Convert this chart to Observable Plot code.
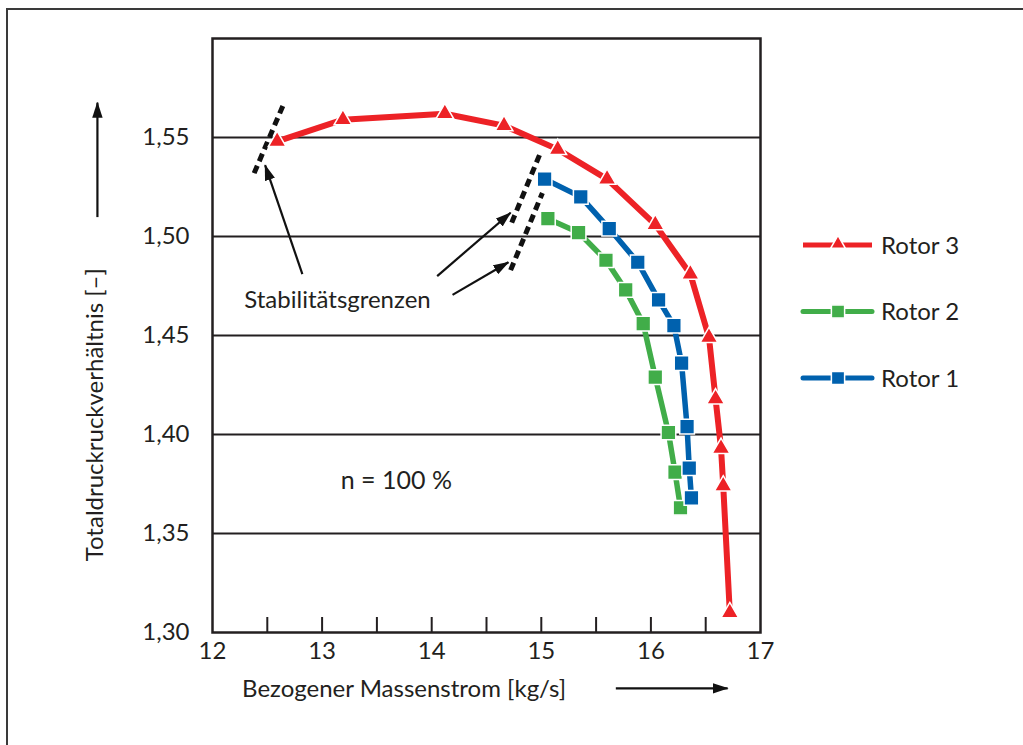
<!DOCTYPE html>
<html><head><meta charset="utf-8">
<script src="https://cdn.jsdelivr.net/npm/d3@7"></script>
<script src="https://cdn.jsdelivr.net/npm/@observablehq/plot@0.6"></script>
<style>
body{margin:0;background:#fff;font-family:Lato,sans-serif}
#wrap{position:relative;width:1023px;height:745px;overflow:hidden;background:#fff}
#chart{position:absolute;left:0;top:0}
#border{position:absolute;left:6px;top:8px;width:1100px;height:800px;border-left:2px solid #3a3a3a;border-top:2px solid #3a3a3a}
#legend{position:absolute;left:0;top:0}
</style></head><body>
<div id="wrap"><div id="chart"></div><div id="border"></div><svg id="legend" width="1023" height="745"></svg></div>
<script>
// ---- data ----
const seriesNames = ["Rotor 3", "Rotor 2", "Rotor 1"];
const seriesColors = ["#ed2226", "#41ad49", "#0061ae"];
const seriesSymbols = ["triangle", "square", "square"];

const rotor3X = [12.59, 13.19, 14.12, 14.66, 15.15, 15.60, 16.04, 16.36, 16.53, 16.59, 16.64, 16.66, 16.72];
const rotor3Y = [1.548, 1.559, 1.562, 1.556, 1.544, 1.529, 1.506, 1.481, 1.449, 1.418, 1.393, 1.374, 1.310];
const rotor2X = [15.06, 15.34, 15.59, 15.77, 15.93, 16.04, 16.16, 16.22, 16.27];
const rotor2Y = [1.509, 1.502, 1.488, 1.473, 1.456, 1.429, 1.401, 1.381, 1.363];
const rotor1X = [15.03, 15.36, 15.62, 15.88, 16.07, 16.21, 16.28, 16.33, 16.35, 16.37];
const rotor1Y = [1.529, 1.520, 1.504, 1.487, 1.468, 1.455, 1.436, 1.404, 1.383, 1.368];

// stability limits (dotted)
const stab1X = [12.38, 12.65], stab1Y = [1.532, 1.567];
const stab2X = [14.73, 14.99], stab2Y = [1.507, 1.542];
const stab3X = [14.72, 14.81, 15.01], stab3Y = [1.483, 1.495, 1.522];

// annotation arrows [x1, y1, x2, y2]
const annotArrows = [
  [12.82, 1.481, 12.48, 1.536],
  [14.05, 1.480, 14.72, 1.512],
  [14.19, 1.4705, 14.70, 1.487]
];
const axisArrows = [
  [10.95, 1.5098, 10.95, 1.5676],
  [15.68, 1.2718, 16.70, 1.2718]
];

const xTickLabels = [12, 13, 14, 15, 16, 17];
const xMinorTicks = [12.5, 13, 13.5, 14, 14.5, 15, 15.5, 16, 16.5];
const yTickLabels = [1.30, 1.35, 1.40, 1.45, 1.50, 1.55];
const yGrid = [1.35, 1.40, 1.45, 1.50, 1.55];

const toRows = (xs, ys, name) => xs.map((x, i) => ({x, y: ys[i], name}));
const r3 = toRows(rotor3X, rotor3Y, "Rotor 3");
const r2 = toRows(rotor2X, rotor2Y, "Rotor 2");
const r1 = toRows(rotor1X, rotor1Y, "Rotor 1");
const series = [r3, r2, r1];

const arrowRows = annotArrows.concat(axisArrows).map(([x1, y1, x2, y2]) => ({x1, y1, x2, y2}));
const fmt = d => d.toFixed(2).replace(".", ",");
const ink = "#231f20";

const plot = Plot.plot({
  width: 1023,
  height: 745,
  marginLeft: 212,
  marginRight: 263,
  marginTop: 38,
  marginBottom: 113,
  style: {fontFamily: "Lato, sans-serif", fontSize: "24px", color: ink, background: "transparent"},
  x: {domain: [12, 17]},
  y: {domain: [1.30, 1.60]},
  marks: [
    Plot.ruleY(yGrid, {stroke: ink, strokeWidth: 2}),
    Plot.ruleX(xMinorTicks, {stroke: ink, strokeWidth: 2, insetTop: 579}),
    Plot.frame({stroke: ink, strokeWidth: 2.5}),
    Plot.axisY({ticks: yTickLabels, tickFormat: fmt, tickSize: 0, tickPadding: 23, label: null, fontSize: 24}),
    Plot.axisX({ticks: xTickLabels, tickFormat: d => String(d), tickSize: 0, tickPadding: 9, label: null, fontSize: 24}),
    Plot.line(toRows(stab1X, stab1Y), {x: "x", y: "y", stroke: "#111", strokeWidth: 5, strokeDasharray: "8,5", strokeLinecap: "butt"}),
    Plot.line(toRows(stab2X, stab2Y), {x: "x", y: "y", stroke: "#111", strokeWidth: 5, strokeDasharray: "8,5", strokeLinecap: "butt"}),
    Plot.line(toRows(stab3X, stab3Y), {x: "x", y: "y", stroke: "#111", strokeWidth: 5, strokeDasharray: "8,5", strokeLinecap: "butt"}),
    Plot.link(arrowRows, {x1: "x1", y1: "y1", x2: "x2", y2: "y2", stroke: "#111", strokeWidth: 2.2, markerEnd: "arrow"}),
    ...series.map((rows, i) => Plot.line(rows, {x: "x", y: "y", stroke: seriesColors[i], strokeWidth: i === 0 ? 6 : 5.5})),
    ...series.map((rows, i) => Plot.dot(rows, {x: "x", y: "y", symbol: () => seriesSymbols[i], fill: seriesColors[i], stroke: "white", strokeWidth: 1.5, r: i === 0 ? 6.6 : 8.3})),
    Plot.text(["Stabilitätsgrenzen"], {x: 12.29, y: 1.468, textAnchor: "start", fontSize: 24, fill: ink}),
    Plot.text(["n = 100 %"], {x: 13.17, y: 1.3765, textAnchor: "start", fontSize: 25, fill: ink}),
    Plot.text(["Bezogener Massenstrom [kg/s]"], {x: 12.27, y: 1.2715, textAnchor: "start", fontSize: 24, fill: ink}),
    Plot.text(["Totaldruckruckverhältnis [–]"], {x: 10.93, y: 1.410, rotate: -90, fontSize: 24, fill: ink})
  ]
});

// filled arrowheads
d3.select(plot).selectAll("marker")
  .attr("viewBox", "0 -5.5 16 11")
  .attr("markerUnits", "userSpaceOnUse")
  .attr("markerWidth", 16)
  .attr("markerHeight", 11)
  .attr("refX", 15)
  .attr("refY", 0)
  .attr("fill", "#111")
  .attr("stroke", "none")
  .each(function() {
    d3.select(this).selectAll("*").remove();
    d3.select(this).append("path").attr("d", "M0,-5.2L16,0L0,5.2Z");
  });

document.getElementById("chart").appendChild(plot);

// legend
const lg = d3.select("#legend");
seriesNames.forEach((name, i) => {
  const cy = 245 + i * 66.5;
  const g = lg.append("g");
  g.append("line").attr("x1", 803).attr("x2", 872).attr("y1", cy).attr("y2", cy)
    .attr("stroke", seriesColors[i]).attr("stroke-width", 5)
    .attr("stroke-linecap", i === 0 ? "butt" : "round");
  const sym = seriesSymbols[i] === "triangle" ? d3.symbolTriangle : d3.symbolSquare;
  g.append("path").attr("d", d3.symbol(sym, seriesSymbols[i] === "triangle" ? 95 : 175)())
    .attr("transform", `translate(838,${cy - (i === 0 ? 1 : 0)})`)
    .attr("fill", seriesColors[i]).attr("stroke", "white").attr("stroke-width", 1.5);
  g.append("text").attr("x", 881).attr("y", cy).attr("dy", "0.36em")
    .attr("font-family", "Lato, sans-serif").attr("font-size", 24).attr("fill", ink).text(name);
});
</script>
</body></html>
